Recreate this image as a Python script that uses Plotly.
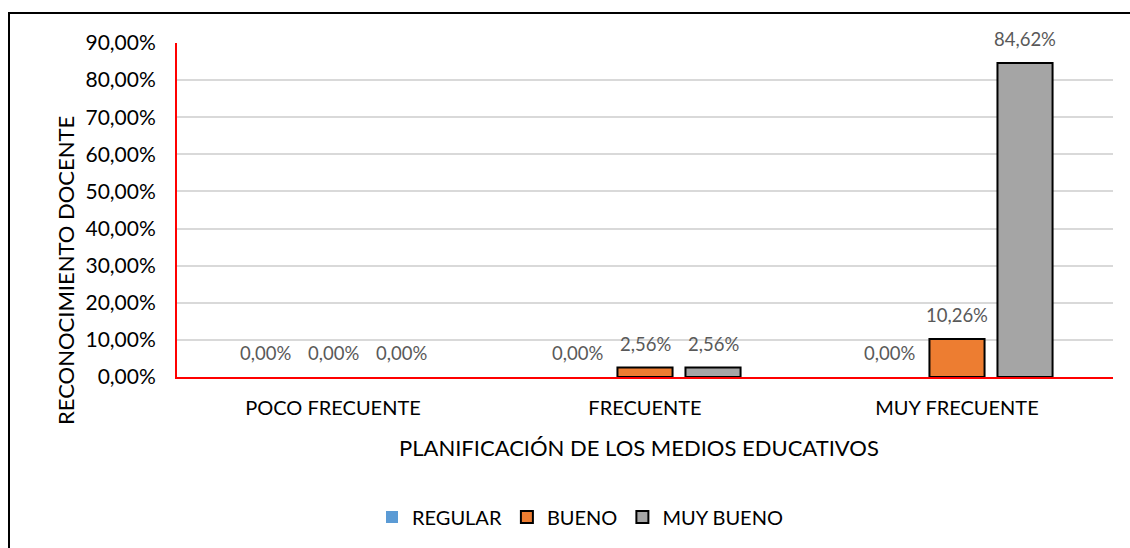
import plotly.graph_objects as go

categories = ["POCO FRECUENTE", "FRECUENTE", "MUY FRECUENTE"]
series_names = ["REGULAR", "BUENO", "MUY BUENO"]
regular = [0.0, 0.0, 0.0]
bueno = [0.0, 0.0256, 0.1026]
muy_bueno = [0.0, 0.0256, 0.8462]
y_ticks = [0.0, 0.1, 0.2, 0.3, 0.4, 0.5, 0.6, 0.7, 0.8, 0.9]

colors = ["#5B9BD5", "#ED7D31", "#A5A5A5"]
outline = [0, 2, 2]
series_values = [regular, bueno, muy_bueno]

FONT = "Lato, 'Liberation Sans', sans-serif"

fig = go.Figure()
for name, vals, c, lw in zip(series_names, series_values, colors, outline):
    fig.add_trace(go.Bar(
        x=categories, y=vals, name=name, legendgroup=name, showlegend=False,
        marker=dict(color=c, line=dict(color="#000000",
                                       width=[lw if v > 0 else 0 for v in vals])),
    ))
# legend entries (outlined squares like the original)
for name, c, lw in zip(series_names, colors, outline):
    fig.add_trace(go.Scatter(
        x=[None], y=[None], mode="markers", name=name, legendgroup=name,
        marker=dict(symbol="square", size=12, color=c,
                    line=dict(color="#000000" if lw else c, width=lw)),
    ))

# data labels
offsets = [-68, 0, 68]
for vals, dx in zip(series_values, offsets):
    for cat, v in zip(categories, vals):
        fig.add_annotation(
            x=cat, y=v, xref="x", yref="y", xshift=dx, yshift=24,
            text=f"{v*100:.2f}%".replace(".", ","), showarrow=False,
            font=dict(family=FONT, size=18.5, color="#595959"),
            yanchor="middle", xanchor="center",
        )

W, H = 1130, 548
L, R, T, B = 177, 17, 43, 171
pw, ph = W - L - R, H - T - B

def px(x):
    return (x - L) / pw

def py(y):
    return (H - B - y) / ph

fig.add_annotation(
    x=px(65), y=py(271), xref="paper", yref="paper", text="RECONOCIMIENTO DOCENTE",
    textangle=-90, showarrow=False, font=dict(family=FONT, size=22, color="#000000"),
    xanchor="center", yanchor="middle",
)
fig.add_annotation(
    x=px(639), y=py(447), xref="paper", yref="paper",
    text="PLANIFICACIÓN DE LOS MEDIOS EDUCATIVOS",
    showarrow=False, font=dict(family=FONT, size=22, color="#000000"),
    xanchor="center", yanchor="middle",
)

fig.add_shape(
    type="rect", xref="paper", yref="paper",
    x0=px(9), y0=py(600), x1=px(1200), y1=py(13),
    line=dict(color="#000000", width=2), fillcolor="rgba(0,0,0,0)", layer="below",
)

fig.update_layout(
    width=W, height=H,
    margin=dict(l=L, r=R, t=T, b=B, pad=0),
    paper_bgcolor="#FFFFFF", plot_bgcolor="#FFFFFF",
    barmode="group", bargap=0.346, bargroupgap=0.19,
    separators=",.",
    font=dict(family=FONT, size=20, color="#000000"),
    showlegend=True,
    legend=dict(
        orientation="h", x=px(580), y=py(517), xanchor="center", yanchor="middle",
        font=dict(family=FONT, size=20, color="#000000"),
        itemwidth=30, traceorder="normal",
    ),
    xaxis=dict(
        type="category", showgrid=False, showline=True, linecolor="#FF0000", linewidth=2,
        ticks="", ticklabelstandoff=12, tickfont=dict(family=FONT, size=20, color="#000000"),
        zeroline=False,
    ),
    yaxis=dict(
        range=[0, 0.9], tickvals=y_ticks, tickformat=".2%",
        showgrid=True, gridcolor="#D9D9D9", gridwidth=1.5,
        showline=True, linecolor="#FF0000", linewidth=2, ticks="",
        ticklabelstandoff=15, tickfont=dict(family=FONT, size=21, color="#000000"),
        zeroline=False,
    ),
)

fig.write_html("out.html", config={"displayModeBar": False},
               post_script="document.body.style.margin='0';document.body.style.overflow='hidden';")
